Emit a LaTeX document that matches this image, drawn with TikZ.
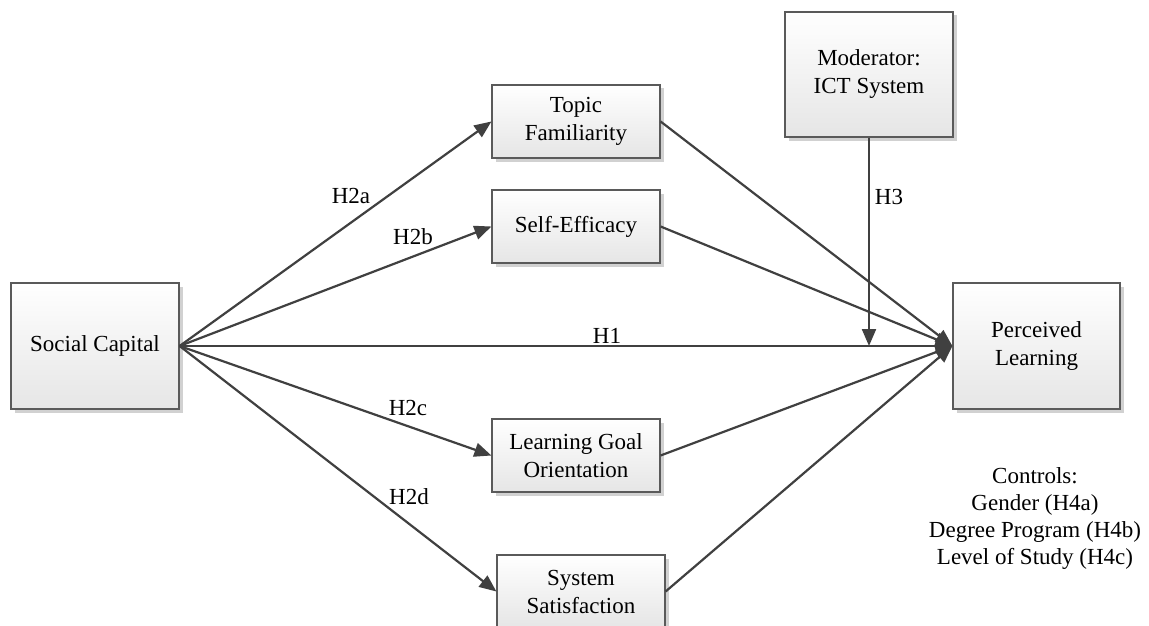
\documentclass[tikz,border=0pt]{standalone}
\usepackage{fontspec}
\setmainfont{Liberation Serif}
\usetikzlibrary{arrows.meta,shadows}
\definecolor{edgegray}{HTML}{404040}
\definecolor{framegray}{HTML}{5A5A5A}
\tikzset{
  model/.style={draw=framegray, line width=1.2pt, inner sep=0pt, align=center,
    top color=white, bottom color=black!10,
    drop shadow={shadow xshift=3.5pt, shadow yshift=-3.5pt, fill=black!18, opacity=1},
    font=\fontsize{23}{28}\selectfont},
  path/.style={draw=edgegray, line width=2.2pt,
    -{Triangle[length=17pt,width=14pt]}},
  hyp/.style={font=\fontsize{23}{28}\selectfont, inner sep=0pt},
}
\begin{document}
\begin{tikzpicture}[x=1pt,y=-1pt]
\useasboundingbox (0,0) rectangle (1149,626);
\fill[white] (0,0) rectangle (1149,626);

% constructs
\node[model, minimum width=168pt, minimum height=126pt] (sc) at (95,346) {Social Capital};
\node[model, minimum width=168pt, minimum height=73pt] (tf) at (576,121.5) {Topic\\Familiarity};
\node[model, minimum width=168pt, minimum height=73pt] (se) at (576,226.5) {Self-Efficacy};
\node[model, minimum width=168pt, minimum height=73pt] (lgo) at (576,455.5) {Learning Goal\\Orientation};
\node[model, minimum width=168pt, minimum height=73pt] (ss) at (581,591.5) {System\\Satisfaction};
\node[model, minimum width=168pt, minimum height=125pt] (mod) at (869,74.5) {Moderator:\\ICT System};
\node[model, minimum width=167pt, minimum height=126pt] (pl) at (1036.5,346) {Perceived\\Learning};

% hypothesised paths
\draw[path] (sc.east) -- (tf.west);
\draw[path] (sc.east) -- (se.west);
\draw[path] (sc.east) -- (pl.west);
\draw[path] (sc.east) -- (lgo.west);
\draw[path] (sc.east) -- (ss.west);
\draw[path] (tf.east) -- (pl.west);
\draw[path] (se.east) -- (pl.west);
\draw[path] (lgo.east) -- (pl.west);
\draw[path] (ss.east) -- (pl.west);

% moderation onto the direct effect
\coordinate (h3end) at (mod.south |- pl.west);
\draw[path] (mod.south) -- (h3end);

% path labels
\node[hyp] (l2a) at (351,196) {H2a};
\node[hyp] (l2b) at (413,237) {H2b};
\node[hyp] (l1) at (607,336) {H1};
\node[hyp] (l2c) at (408,408) {H2c};
\node[hyp] (l2d) at (409,497) {H2d};
\node[hyp] (l3) at (889,197) {H3};

% control variables
\node[hyp, align=center, font=\fontsize{23}{27}\selectfont] (ctrl) at (1035,518)
  {Controls:\\Gender (H4a)\\Degree Program (H4b)\\Level of Study (H4c)};
\end{tikzpicture}
\end{document}
